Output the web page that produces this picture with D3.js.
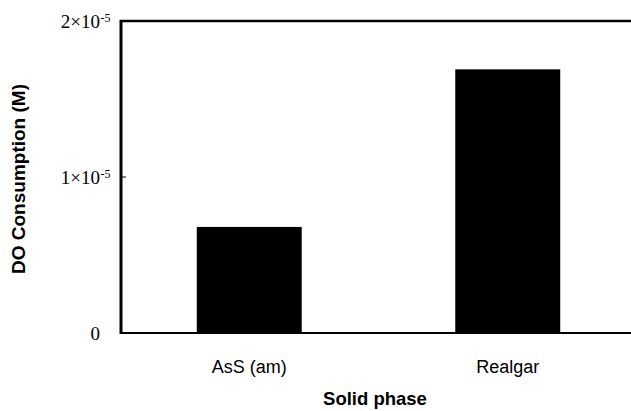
<!DOCTYPE html>
<meta charset="utf-8">
<head>
    <title>DO Consumption by Solid Phase</title>
    <script type="text/javascript" src="https://d3js.org/d3.v7.min.js"></script>
    <style>
        body { margin: 0; background: #fff; }
        .tick-label { font-family: "Liberation Serif", "Times New Roman", serif; }
        .axis-title { font-family: "Liberation Sans", Arial, sans-serif; font-weight: bold; }
        .cat-label { font-family: "Liberation Sans", Arial, sans-serif; }
    </style>
</head>
<body>
<script>
    // data
    var phases = ["AsS (am)", "Realgar"];
    var consumption = [6.8e-6, 1.69e-5];
    var tickValues = [0, 1e-5, 2e-5];
    var tickMain = ["0", "1\u00d710", "2\u00d710"];
    var tickSup = ["", "-5", "-5"];

    var width = 631, height = 411;
    var margin = {top: 21, right: -6, bottom: 78, left: 120};

    var svg = d3.select("body").append("svg")
        .attr("width", width)
        .attr("height", height);

    var x = d3.scaleBand()
        .domain(phases)
        .range([margin.left, width - margin.right])
        .paddingInner(0.594)
        .paddingOuter(0.297);

    var y = d3.scaleLinear()
        .domain([0, 2e-5])
        .range([height - margin.bottom, margin.top]);

    // bars
    svg.selectAll("rect.bar")
        .data(phases)
        .enter()
        .append("rect")
        .attr("class", "bar")
        .attr("x", d => x(d))
        .attr("width", x.bandwidth())
        .attr("y", (d, i) => y(consumption[i]))
        .attr("height", (d, i) => y(0) - y(consumption[i]))
        .attr("fill", "#000");

    // frame: left axis, top line, bottom axis
    var x0 = margin.left, x1 = width - margin.right;
    svg.append("line")
        .attr("x1", x0 + 1).attr("x2", x0 + 1)
        .attr("y1", y(2e-5) - 1).attr("y2", y(0) + 1)
        .attr("stroke", "#000").attr("stroke-width", 3);
    svg.append("line")
        .attr("x1", x0).attr("x2", x1)
        .attr("y1", y(2e-5)).attr("y2", y(2e-5))
        .attr("stroke", "#000").attr("stroke-width", 2.5);
    svg.append("line")
        .attr("x1", x0).attr("x2", x1)
        .attr("y1", y(0)).attr("y2", y(0))
        .attr("stroke", "#000").attr("stroke-width", 2);

    // inner ticks
    svg.selectAll("line.tick")
        .data(tickValues)
        .enter()
        .append("line")
        .attr("class", "tick")
        .attr("x1", x0 + 2).attr("x2", x0 + 6)
        .attr("y1", d => y(d)).attr("y2", d => y(d))
        .attr("stroke", "#000").attr("stroke-width", 1);

    // tick labels
    var tl = svg.selectAll("g.ytick")
        .data(tickValues)
        .enter()
        .append("g")
        .attr("class", "ytick");
    tl.append("text")
        .attr("class", "tick-label")
        .attr("x", 100)
        .attr("y", d => y(d) + 6.5)
        .attr("text-anchor", "end")
        .attr("font-size", "19px")
        .text((d, i) => tickMain[i]);
    tl.append("text")
        .attr("class", "tick-label")
        .attr("x", 100.5)
        .attr("y", d => y(d) + 1)
        .attr("font-size", "12px")
        .text((d, i) => tickSup[i]);

    // category labels
    svg.selectAll("text.cat-label")
        .data(phases)
        .enter()
        .append("text")
        .attr("class", "cat-label")
        .attr("x", d => x(d) + x.bandwidth() / 2)
        .attr("y", 373)
        .attr("text-anchor", "middle")
        .attr("font-size", "18px")
        .text(d => d);

    // axis titles
    svg.append("text")
        .attr("class", "axis-title")
        .attr("x", 375)
        .attr("y", 405)
        .attr("text-anchor", "middle")
        .attr("font-size", "18.5px")
        .text("Solid phase");

    svg.append("text")
        .attr("class", "axis-title")
        .attr("transform", "translate(25,179) rotate(-90)")
        .attr("text-anchor", "middle")
        .attr("font-size", "19px")
        .text("DO Consumption (M)");
</script>
</body>
</html>
